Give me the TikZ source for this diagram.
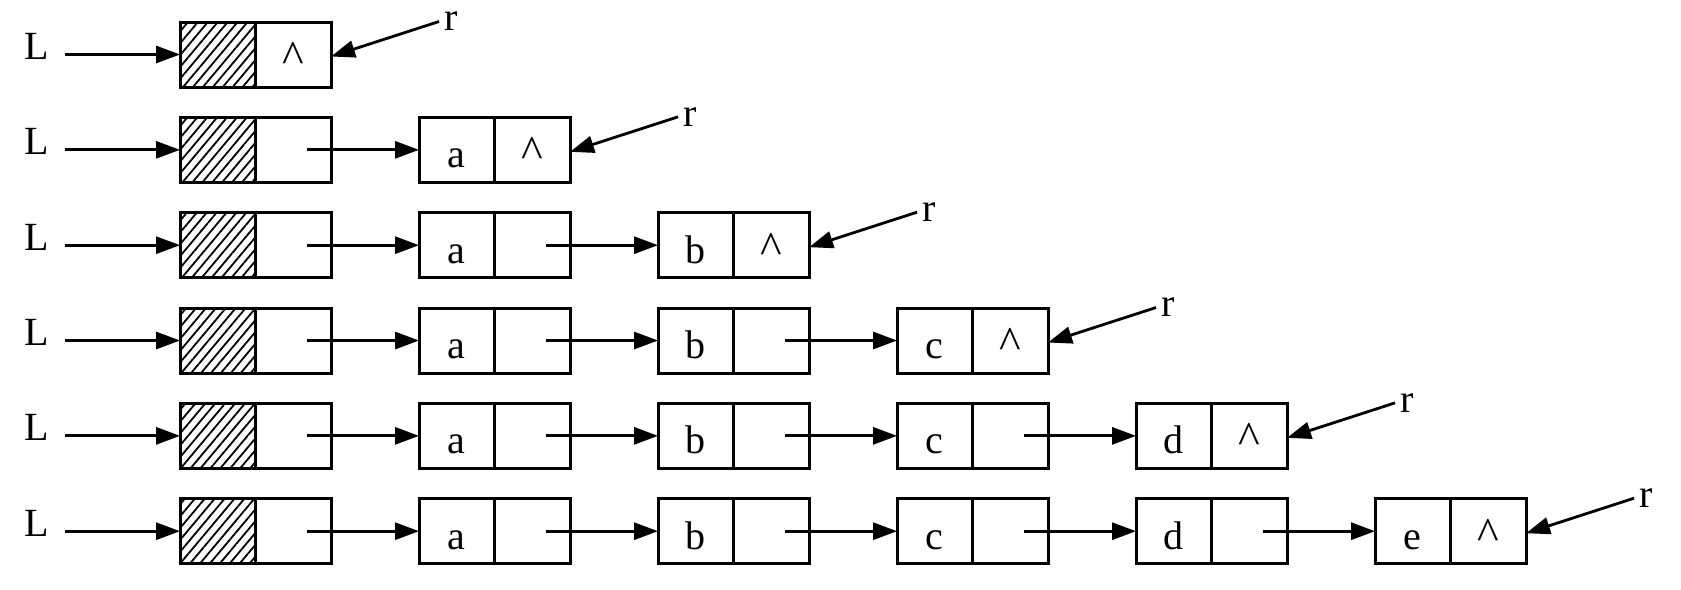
\documentclass[tikz,border=0pt]{standalone}
\usepackage{fontspec}
\setmainfont{Liberation Serif}
\usetikzlibrary{arrows.meta,positioning,patterns.meta}
\tikzset{
  cellbox/.style={
    draw,
    line width=1.5pt,
    minimum width=37.75pt,
    minimum height=32.5pt,
    inner sep=0pt,
    outer sep=0pt,
    text height=18pt,
    text depth=0pt,
    font=\fontsize{20}{24}\selectfont,
  },
  hatchbox/.style={
    cellbox,
    pattern={Lines[angle=50,distance=3.8pt,line width=0.9pt]},
  },
  ptr/.style={
    -{Triangle[length=12pt,width=8.5pt]},
    line width=1.4pt,
  },
  headlabel/.style={
    inner xsep=8pt,
    text height=5pt,
    text depth=0pt,
    font=\fontsize{20}{24}\selectfont,
  },
  taillabel/.style={
    anchor=west,
    inner xsep=2.5pt,
    font=\fontsize{20}{24}\selectfont,
  }
}
\newcommand{\nilmark}{{\fontsize{23}{24}\selectfont\textasciicircum}}

\begin{document}
\begin{tikzpicture}
  \useasboundingbox (0,0) rectangle (840.5pt,-294.5pt);

  % head node of every row
  \foreach \i in {1,...,6} {
    \node[hatchbox] (d\i-0) at (108.9pt,{-27.25pt-47.67pt*(\i-1)}) {};
    \node[cellbox, right=0pt of d\i-0] (p\i-0) {\ifnum\i=1 \nilmark\fi};
    \node[headlabel, left=57.5pt of d\i-0] (L\i) {L};
    \draw[ptr] (L\i) -- (d\i-0);
  }

  % inserted nodes, one column per letter
  \foreach \t [count=\k] in {a,b,c,d,e} {
    \pgfmathtruncatemacro\first{\k+1}
    \pgfmathtruncatemacro\prev{\k-1}
    \foreach \i in {\first,...,6} {
      \node[cellbox, right=44pt of p\i-\prev] (d\i-\k) {\t};
      \node[cellbox, right=0pt of d\i-\k] (p\i-\k) {\ifnum\i=\first \nilmark\fi};
      \draw[ptr] ([xshift=7pt]p\i-\prev.center) -- (d\i-\k);
    }
  }

  % tail pointer r
  \foreach \i [evaluate=\i as \k using int(\i-1)] in {1,...,6} {
    \node[taillabel] (r\i) at ([shift={(54pt,16.5pt)}]p\i-\k.east) {r};
    \draw[ptr] (r\i.west) -- ([yshift=-1pt]p\i-\k.east);
  }
\end{tikzpicture}
\end{document}
